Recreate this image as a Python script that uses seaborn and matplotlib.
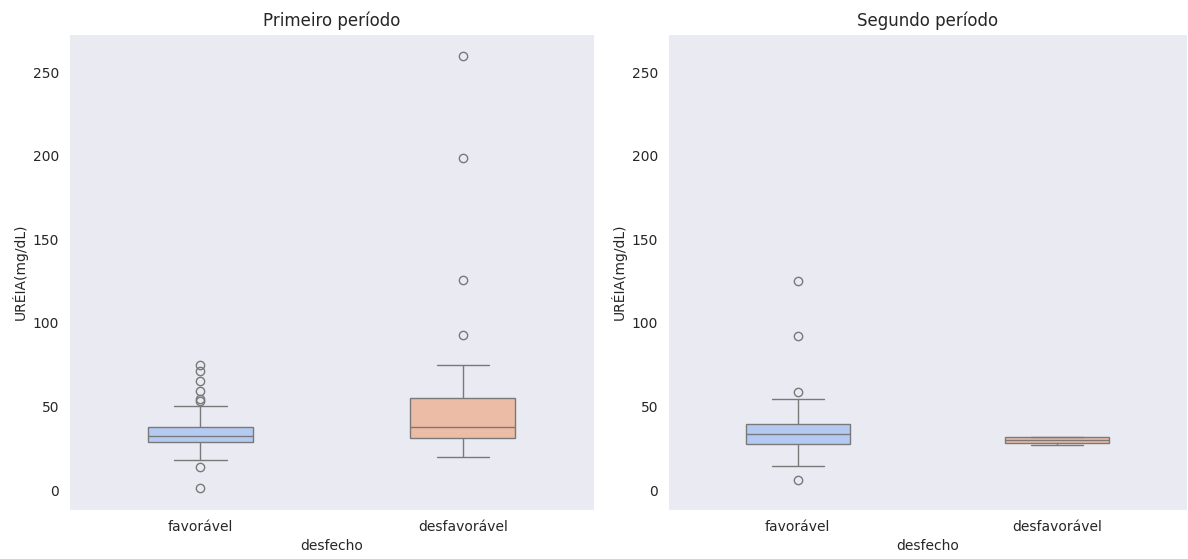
import matplotlib
matplotlib.use("Agg")
import matplotlib.pyplot as plt
import seaborn as sns
import pandas as pd

categories = ["favorável", "desfavorável"]
titles = ["Primeiro período", "Segundo período"]
ylabel = "URÉIA(mg/dL)"
xlabel = "desfecho"

p1_favoravel = [1, 14, 18, 20, 22, 23, 24, 25, 26, 27, 28, 28.5, 29, 29.5, 30, 30.5,
                31, 31, 31.5, 32, 32, 32, 32.5, 33, 33.5, 34, 34.5, 35, 35.5, 36,
                36.5, 37, 37, 37.5, 38, 40, 42, 45, 50, 53, 54.5, 59, 65, 71, 75]
p1_desfavoravel = [20, 23, 25, 27, 29, 30, 31, 33, 34, 35, 36, 37, 38, 41, 44, 47,
                   50, 53, 55, 62, 75, 93, 126, 199, 260]
p2_favoravel = [6, 14.5, 18, 21, 23, 24.5, 25.5, 26.5, 27.5, 28.5, 29.5, 30, 31, 31.5,
                32, 33, 33.5, 34, 35, 35.5, 36.5, 37.5, 38, 39, 39.5, 41, 43, 46, 50,
                54.5, 58.5, 92, 125]
p2_desfavoravel = [27, 28, 30, 32, 32]

def make_df(fav, desf):
    return pd.DataFrame({
        xlabel: [categories[0]] * len(fav) + [categories[1]] * len(desf),
        ylabel: list(fav) + list(desf),
    })

frames = [make_df(p1_favoravel, p1_desfavoravel), make_df(p2_favoravel, p2_desfavoravel)]

sns.set_style("dark")
fig = plt.figure(figsize=(11.88, 5.59), dpi=100)
W, H = 1188, 559
ax1 = fig.add_axes([69 / W, 1 - 510 / H, 525 / W, 476 / H])
ax2 = fig.add_axes([668 / W, 1 - 510 / H, 519 / W, 476 / H], sharey=ax1)

for ax, df, title in zip([ax1, ax2], frames, titles):
    sns.boxplot(data=df, x=xlabel, y=ylabel, hue=xlabel, order=categories,
                hue_order=categories, palette="coolwarm", width=0.4,
                legend=False, ax=ax)
    ax.set_title(title, fontsize=12)
    ax.set_xlabel(xlabel)
    ax.set_ylabel(ylabel)
    ax.tick_params(labelleft=True)

fig.savefig("out.png", dpi=100)
